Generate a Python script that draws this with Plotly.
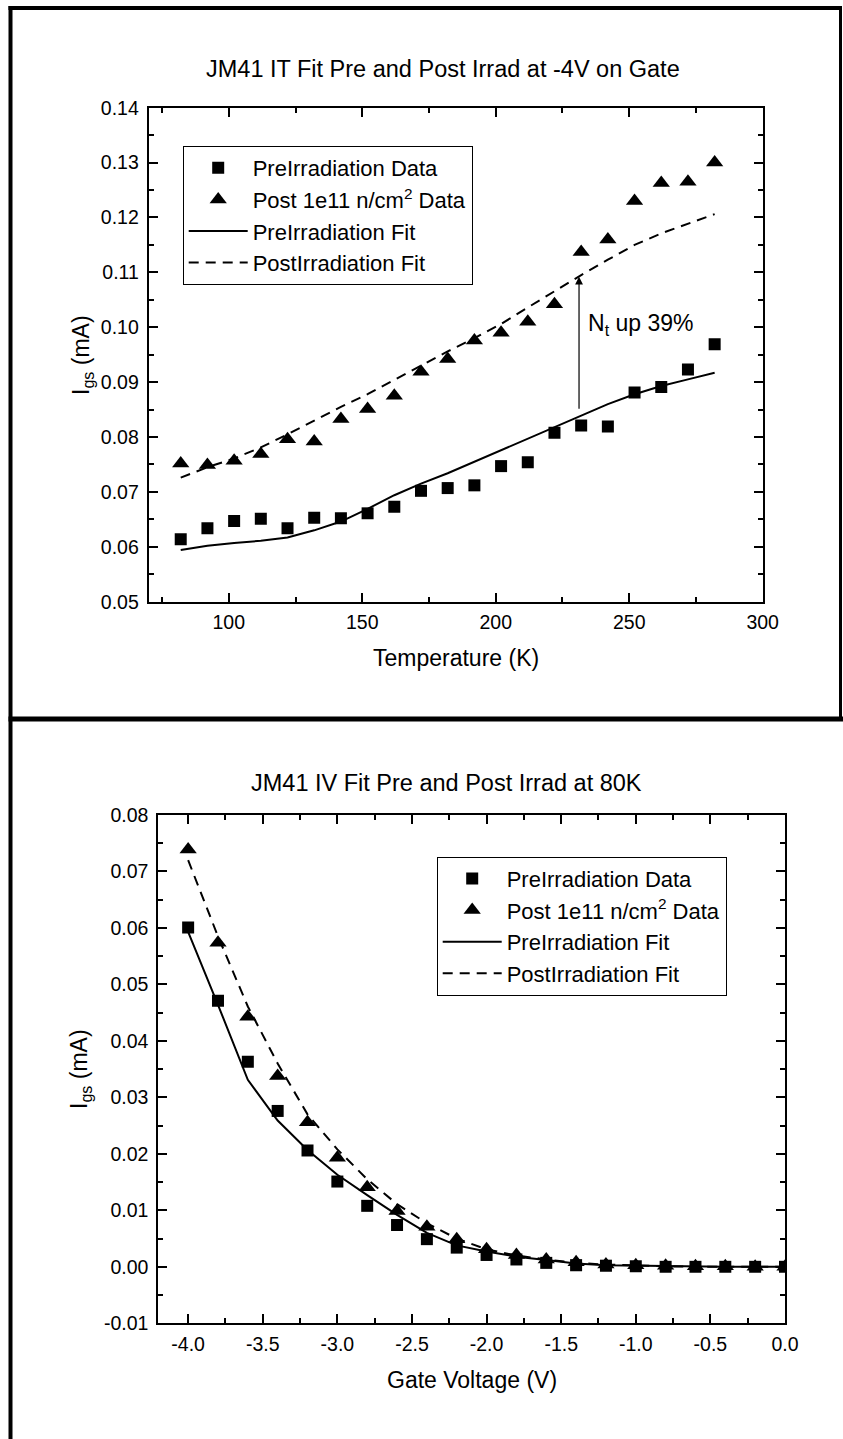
import plotly.graph_objects as go

W, H = 843, 1439
FONT = "Arial, Liberation Sans, sans-serif"

# ---------------- Top panel: I-T at -4V ----------------
temp_k = [82, 92, 102, 112, 122, 132, 142, 152, 162, 172, 182,
          192, 202, 212, 222, 232, 242, 252, 262, 272, 282]
pre_temp_data = [0.0614, 0.0634, 0.0647, 0.0651, 0.0634, 0.0653, 0.0652, 0.0661, 0.0673, 0.0702, 0.0707,
                 0.0712, 0.0747, 0.0754, 0.0808, 0.0821, 0.0819, 0.0881, 0.0891, 0.0923, 0.0969]
post_temp_data = [0.0752, 0.0749, 0.0757, 0.0769, 0.0796, 0.0792, 0.0833, 0.0851, 0.0875, 0.0919, 0.0942,
                  0.0976, 0.0990, 0.1010, 0.1042, 0.1137, 0.1160, 0.1230, 0.1263, 0.1265, 0.1300]
pre_temp_fit = [0.0594, 0.0602, 0.0607, 0.0611, 0.0617, 0.0630, 0.0646, 0.0669, 0.0694, 0.0715, 0.0734,
                0.0755, 0.0777, 0.0798, 0.0819, 0.0839, 0.0860, 0.0878, 0.0893, 0.0905, 0.0917]
post_temp_fit = [0.0726, 0.0745, 0.0761, 0.0781, 0.0805, 0.0830, 0.0855, 0.0878, 0.0904, 0.0930, 0.0956,
                 0.0980, 0.1006, 0.1036, 0.1066, 0.1095, 0.1123, 0.1150, 0.1171, 0.1189, 0.1206]
top_x_ticks = [100, 150, 200, 250, 300]
top_x_ticktext = ["100", "150", "200", "250", "300"]
top_y_ticks = [0.05, 0.06, 0.07, 0.08, 0.09, 0.10, 0.11, 0.12, 0.13, 0.14]
top_y_ticktext = ["0.05", "0.06", "0.07", "0.08", "0.09", "0.10", "0.11", "0.12", "0.13", "0.14"]
arrow_x = 231.2
arrow_y_from = 0.0849
arrow_y_to = 0.1092

# ---------------- Bottom panel: I-V at 80K ----------------
gate_v = [-4.0, -3.8, -3.6, -3.4, -3.2, -3.0, -2.8, -2.6, -2.4, -2.2, -2.0,
          -1.8, -1.6, -1.4, -1.2, -1.0, -0.8, -0.6, -0.4, -0.2, 0.0]
pre_iv_data = [0.0601, 0.0471, 0.0363, 0.0276, 0.0206, 0.0151, 0.0108, 0.0074, 0.0049, 0.0034, 0.0021,
               0.0013, 0.0007, 0.0003, 0.0002, 0.0001, 0.0000, 0.0000, 0.0000, 0.0000, 0.0000]
post_iv_data = [0.0739, 0.0574, 0.0443, 0.0338, 0.0256, 0.0193, 0.0141, 0.0099, 0.0071, 0.0049, 0.0031,
                0.0021, 0.0013, 0.0008, 0.0004, 0.0003, 0.0002, 0.0001, 0.0001, 0.0000, 0.0000]
pre_iv_fit = [0.0593, 0.0464, 0.0331, 0.0259, 0.0207, 0.0163, 0.0127, 0.0092, 0.0060, 0.0038, 0.0027,
              0.0018, 0.0012, 0.0006, 0.0003, 0.0002, 0.0001, 0.0000, 0.0000, 0.0000, 0.0000]
post_iv_fit = [0.0720, 0.0585, 0.0461, 0.0360, 0.0270, 0.0208, 0.0155, 0.0111, 0.0077, 0.0050, 0.0031,
               0.0020, 0.0013, 0.0007, 0.0004, 0.0002, 0.0001, 0.0000, 0.0000, 0.0000, 0.0000]
bot_x_ticks = [-4.0, -3.5, -3.0, -2.5, -2.0, -1.5, -1.0, -0.5, 0.0]
bot_x_ticktext = ["-4.0", "-3.5", "-3.0", "-2.5", "-2.0", "-1.5", "-1.0", "-0.5", "0.0"]
bot_y_ticks = [-0.01, 0.0, 0.01, 0.02, 0.03, 0.04, 0.05, 0.06, 0.07, 0.08]
bot_y_ticktext = ["-0.01", "0.00", "0.01", "0.02", "0.03", "0.04", "0.05", "0.06", "0.07", "0.08"]

names = ["PreIrradiation Data", "Post 1e11 n/cm<sup>2</sup> Data",
         "PreIrradiation Fit", "PostIrradiation Fit"]

DASH = "10px,7px"
LEGEND_FONT = 22


def px_x(p):
    return p / W


def px_y(p):
    return 1 - p / H


fig = go.Figure()

# top traces
fig.add_trace(go.Scatter(x=temp_k, y=pre_temp_data, mode="markers", name=names[0],
                         marker=dict(symbol="square", size=12, color="black"),
                         xaxis="x", yaxis="y", legend="legend"))
fig.add_trace(go.Scatter(x=temp_k, y=post_temp_data, mode="markers", name=names[1],
                         marker=dict(symbol="triangle-up", size=15, color="black"),
                         xaxis="x", yaxis="y", legend="legend"))
fig.add_trace(go.Scatter(x=temp_k, y=pre_temp_fit, mode="lines", name=names[2],
                         line=dict(color="black", width=2),
                         xaxis="x", yaxis="y", legend="legend"))
fig.add_trace(go.Scatter(x=temp_k, y=post_temp_fit, mode="lines", name=names[3],
                         line=dict(color="black", width=2, dash=DASH),
                         xaxis="x", yaxis="y", legend="legend"))

# bottom traces
fig.add_trace(go.Scatter(x=gate_v, y=pre_iv_data, mode="markers", name=names[0],
                         marker=dict(symbol="square", size=12, color="black"),
                         xaxis="x2", yaxis="y2", legend="legend2"))
fig.add_trace(go.Scatter(x=gate_v, y=post_iv_data, mode="markers", name=names[1],
                         marker=dict(symbol="triangle-up", size=15, color="black"),
                         xaxis="x2", yaxis="y2", legend="legend2"))
fig.add_trace(go.Scatter(x=gate_v, y=pre_iv_fit, mode="lines", name=names[2],
                         line=dict(color="black", width=2),
                         xaxis="x2", yaxis="y2", legend="legend2"))
fig.add_trace(go.Scatter(x=gate_v, y=post_iv_fit, mode="lines", name=names[3],
                         line=dict(color="black", width=2, dash=DASH),
                         xaxis="x2", yaxis="y2", legend="legend2"))

axis_common = dict(showline=True, linewidth=2, linecolor="black", mirror="ticks",
                   ticks="inside", ticklen=9, tickwidth=2, tickcolor="black",
                   showgrid=False, zeroline=False, automargin=False,
                   tickfont=dict(family=FONT, size=19.5, color="black"))
minor_common = dict(ticks="inside", ticklen=5, tickwidth=2, tickcolor="black", tickmode="linear", tick0=0)

fig.update_layout(
    width=W, height=H,
    margin=dict(l=0, r=0, t=0, b=0),
    paper_bgcolor="white", plot_bgcolor="white",
    font=dict(family=FONT, color="black"),
    showlegend=True,
    xaxis=dict(domain=[px_x(148.7), px_x(762.7)], range=[70, 300], anchor="y",
               tickmode="array", tickvals=top_x_ticks, ticktext=top_x_ticktext,
               minor=dict(dtick=25, **minor_common), ticklabelstandoff=2,
               **axis_common),
    yaxis=dict(domain=[px_y(601.7), px_y(107.7)], range=[0.05, 0.14], anchor="x",
               tickmode="array", tickvals=top_y_ticks, ticktext=top_y_ticktext,
               minor=dict(dtick=0.005, **minor_common), ticklabelstandoff=4,
               **axis_common),
    xaxis2=dict(domain=[px_x(158.3), px_x(785)], range=[-4.2, 0.0], anchor="y2",
                tickmode="array", tickvals=bot_x_ticks, ticktext=bot_x_ticktext,
                minor=dict(dtick=0.25, **minor_common), ticklabelstandoff=2,
                **axis_common),
    yaxis2=dict(domain=[px_y(1323.3), px_y(815)], range=[-0.01, 0.08], anchor="x2",
                tickmode="array", tickvals=bot_y_ticks, ticktext=bot_y_ticktext,
                minor=dict(dtick=0.005, **minor_common), ticklabelstandoff=4,
                **axis_common),
    legend=dict(x=px_x(182.7), y=px_y(146), xanchor="left", yanchor="top",
                bgcolor="white", bordercolor="black", borderwidth=1,
                font=dict(family=FONT, size=LEGEND_FONT, color="black"),
                itemwidth=59, tracegroupgap=0),
    legend2=dict(x=px_x(436.7), y=px_y(856.7), xanchor="left", yanchor="top",
                 bgcolor="white", bordercolor="black", borderwidth=1,
                 font=dict(family=FONT, size=LEGEND_FONT, color="black"),
                 itemwidth=59, tracegroupgap=0),
)

ann = []
# chart titles
ann.append(dict(text="JM41 IT Fit Pre and Post Irrad at -4V on Gate", xref="paper", yref="paper",
                x=px_x(443), y=px_y(69), xanchor="center", yanchor="middle", showarrow=False,
                font=dict(family=FONT, size=23.5, color="black")))
ann.append(dict(text="JM41 IV Fit Pre and Post Irrad at 80K", xref="paper", yref="paper",
                x=px_x(446.7), y=px_y(783), xanchor="center", yanchor="middle", showarrow=False,
                font=dict(family=FONT, size=23.5, color="black")))
# axis titles
ann.append(dict(text="Temperature (K)", xref="paper", yref="paper",
                x=px_x(455.7), y=px_y(658), xanchor="center", yanchor="middle", showarrow=False,
                font=dict(family=FONT, size=23, color="black")))
ann.append(dict(text="Gate Voltage (V)", xref="paper", yref="paper",
                x=px_x(471.7), y=px_y(1380), xanchor="center", yanchor="middle", showarrow=False,
                font=dict(family=FONT, size=23, color="black")))
ann.append(dict(text="I<sub>gs</sub> (mA)", xref="paper", yref="paper", textangle=-90,
                x=px_x(82), y=px_y(355), xanchor="center", yanchor="middle", showarrow=False,
                font=dict(family=FONT, size=23, color="black")))
ann.append(dict(text="I<sub>gs</sub> (mA)", xref="paper", yref="paper", textangle=-90,
                x=px_x(80), y=px_y(1069), xanchor="center", yanchor="middle", showarrow=False,
                font=dict(family=FONT, size=23, color="black")))
# arrow + label
ann.append(dict(text="", xref="x", yref="y", x=arrow_x, y=arrow_y_to,
                axref="x", ayref="y", ax=arrow_x, ay=arrow_y_from,
                showarrow=True, arrowhead=2, arrowsize=1.3, arrowwidth=1.2, arrowcolor="black",
                standoff=0, startstandoff=0))
ann.append(dict(text="N<sub>t</sub> up 39%", xref="x", yref="y", x=233.8, y=0.1005,
                xanchor="left", yanchor="middle", showarrow=False,
                font=dict(family=FONT, size=23, color="black")))
fig.update_layout(annotations=ann)

# outer frame lines
shapes = [
    dict(type="line", xref="paper", yref="paper", x0=px_x(8.5), x1=px_x(841), y0=px_y(8), y1=px_y(8),
         line=dict(color="black", width=4)),
    dict(type="line", xref="paper", yref="paper", x0=px_x(10.5), x1=px_x(10.5), y0=px_y(6), y1=0,
         line=dict(color="black", width=4)),
    dict(type="line", xref="paper", yref="paper", x0=px_x(8.5), x1=1, y0=px_y(719), y1=px_y(719),
         line=dict(color="black", width=5)),
    dict(type="line", xref="paper", yref="paper", x0=px_x(840.5), x1=px_x(840.5), y0=px_y(6), y1=px_y(719),
         line=dict(color="black", width=3)),
]
fig.update_layout(shapes=shapes)

fig.write_html("out.html", config={"displayModeBar": False},
               post_script="document.body.style.margin='0px';document.body.style.overflow='hidden';")
